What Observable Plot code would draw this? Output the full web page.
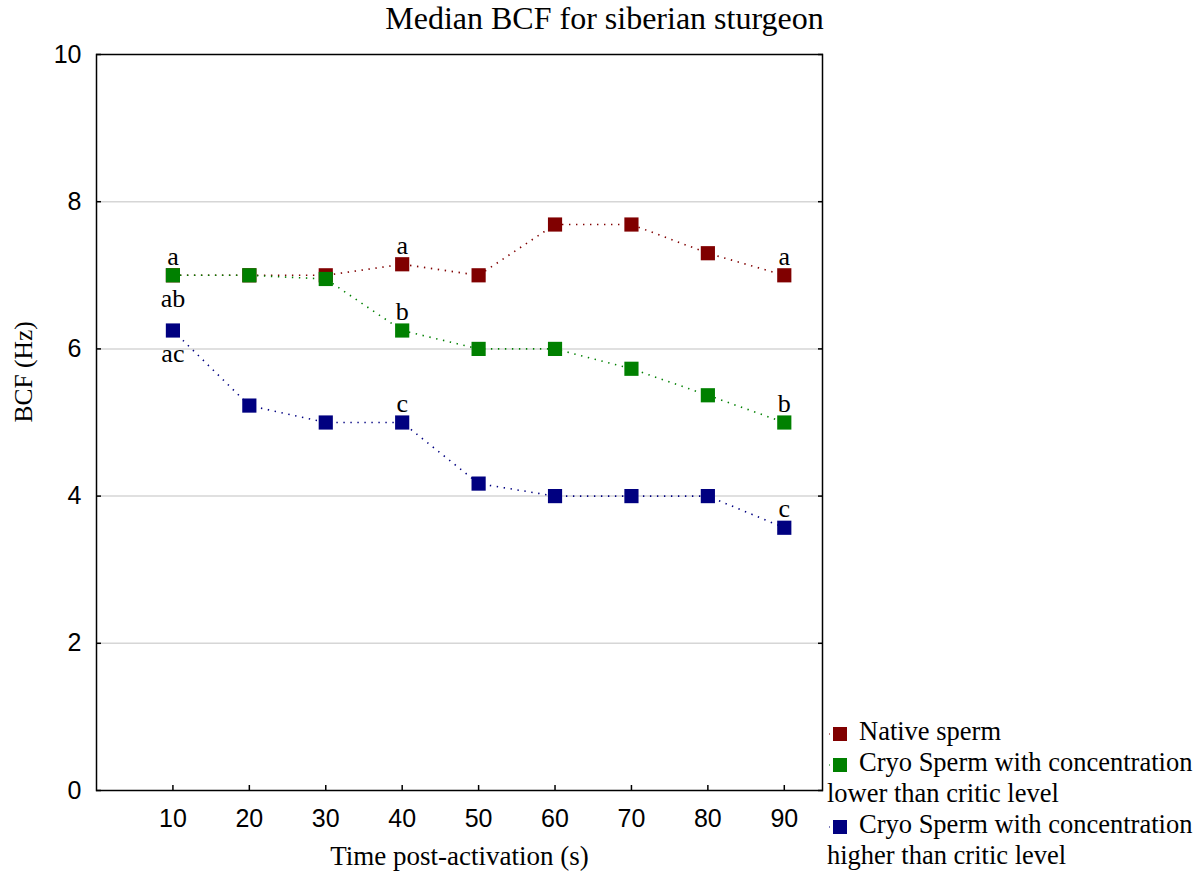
<!DOCTYPE html>
<html>
<head>
<meta charset="utf-8">
<script src="https://cdn.jsdelivr.net/npm/d3@7"></script>
<script src="https://cdn.jsdelivr.net/npm/@observablehq/plot@0.6"></script>
<style>
  html, body { margin: 0; padding: 0; background: #fff; }
  #wrap { position: relative; width: 1199px; height: 878px; overflow: hidden; }
  #title { height: 40px; line-height: 36px; text-align: center; padding-left: 10px; box-sizing: border-box;
           font-family: "Liberation Serif", "Times New Roman", serif; font-size: 32px; color: #000; white-space: nowrap; }
  #legend { position: absolute; left: 827px; top: 716px; font-family: "Liberation Serif", "Times New Roman", serif;
            font-size: 26.5px; line-height: 31px; color: #000; white-space: pre-line; }
  #legend .sw { display: inline-block; width: 32px; height: 14px; vertical-align: -1px; }
</style>
</head>
<body>
<div id="wrap">
  <div id="title"></div>
  <div id="chart"></div>
  <div id="legend"></div>
</div>
<script>
// ---- data ----
const chartTitle = "Median BCF for siberian sturgeon";
const xLabel = "Time post-activation (s)";
const yLabel = "BCF (Hz)";
const times = [10, 20, 30, 40, 50, 60, 70, 80, 90];
const nativeSperm = [7.0, 7.0, 7.0, 7.15, 7.0, 7.69, 7.69, 7.3, 7.0];
const cryoLower = [7.0, 7.0, 6.95, 6.25, 6.0, 6.0, 5.73, 5.37, 5.0];
const cryoHigher = [6.25, 5.23, 5.0, 5.0, 4.17, 4.0, 4.0, 4.0, 3.57];
const seriesNames = [
  "Native sperm",
  "Cryo Sperm with concentration\nlower than critic level",
  "Cryo Sperm with concentration\nhigher than critic level"
];
const seriesColors = ["#800000", "#008000", "#000080"];
const xTicks = [10, 20, 30, 40, 50, 60, 70, 80, 90];
const yTicks = [0, 2, 4, 6, 8, 10];
const gridValues = [2, 4, 6, 8];
// significance letters: series index, time, letter, placement
const letterSeries = [0, 0, 0, 1, 1, 1, 2, 2, 2];
const letterTimes = [10, 40, 90, 10, 40, 90, 10, 40, 90];
const letterTexts = ["a", "a", "a", "ab", "b", "b", "ac", "c", "c"];
const letterPlace = ["above", "above", "above", "below", "above", "above", "below", "above", "above"];

// ---- build tables ----
const seriesValues = [nativeSperm, cryoLower, cryoHigher];
const rows = [];
seriesValues.forEach((vals, s) => vals.forEach((v, i) => rows.push({series: s, time: times[i], value: v})));
const letters = letterTexts.map((t, i) => ({
  text: t, time: letterTimes[i], place: letterPlace[i],
  value: seriesValues[letterSeries[i]][times.indexOf(letterTimes[i])]
}));

const serif = "Liberation Serif, Times New Roman, serif";
const sans = "Liberation Sans, Arial, sans-serif";

document.getElementById("title").textContent = chartTitle;

const marks = [
  Plot.gridY(gridValues, {stroke: "#d6d6d6", strokeOpacity: 1, strokeWidth: 1.5}),
  Plot.frame({stroke: "#000", strokeWidth: 1.5}),
  // inward tick marks
  Plot.axisX(xTicks, {anchor: "bottom", tickSize: -5, tickFormat: () => "", label: null, strokeWidth: 1.5}),
  Plot.axisY(yTicks, {anchor: "left", tickSize: -5, tickFormat: () => "", label: null, strokeWidth: 1.5}),
  Plot.axisY(yTicks, {anchor: "right", tickSize: -5, tickFormat: () => "", label: null, strokeWidth: 1.5}),
  // tick labels
  Plot.axisX(xTicks, {anchor: "bottom", tickSize: 0, tickPadding: 19, label: null, fontSize: 25, fontFamily: sans, tickFormat: d => String(d)}),
  Plot.axisY(yTicks, {anchor: "left", tickSize: 0, tickPadding: 15, label: null, fontSize: 25, fontFamily: sans, tickFormat: d => String(d)}),
  // axis titles
  Plot.text([xLabel], {frameAnchor: "bottom", dy: 74, fontSize: 27, fontFamily: serif, fill: "#000"}),
  Plot.text([yLabel], {frameAnchor: "left", dx: -73, rotate: -90, fontSize: 25.5, fontFamily: serif, fill: "#000"})
];
seriesValues.forEach((vals, s) => {
  const data = rows.filter(d => d.series === s);
  marks.push(Plot.line(data, {x: "time", y: "value", stroke: seriesColors[s], strokeWidth: 1.6,
    strokeDasharray: "1.4,5.6", strokeLinecap: "butt"}));
  marks.push(Plot.dot(data, {x: "time", y: "value", symbol: "square", r: 8, fill: seriesColors[s], stroke: "none"}));
});
marks.push(Plot.text(letters.filter(d => d.place === "above"), {x: "time", y: "value", text: "text", dy: -19,
  fontSize: 26, fontFamily: serif, fill: "#000"}));
marks.push(Plot.text(letters.filter(d => d.place === "below"), {x: "time", y: "value", text: "text", dy: 23,
  fontSize: 26, fontFamily: serif, fill: "#000"}));

const chart = Plot.plot({
  width: 1199,
  height: 838,
  marginTop: 14,
  marginBottom: 88,
  marginLeft: 96,
  marginRight: 377,
  x: {domain: [0, 95]},
  y: {domain: [0, 10]},
  style: {background: "white", fontFamily: sans, overflow: "visible", color: "#000"},
  marks
});
document.getElementById("chart").appendChild(chart);

// legend
const legend = document.getElementById("legend");
seriesNames.forEach((name, s) => {
  const item = document.createElement("div");
  const sw = document.createElementNS("http://www.w3.org/2000/svg", "svg");
  sw.setAttribute("class", "sw");
  sw.setAttribute("width", 32); sw.setAttribute("height", 14);
  sw.innerHTML = `<line x1="2" x2="8" y1="7" y2="7" stroke="${seriesColors[s]}" stroke-width="1.2" stroke-dasharray="1,3"/>` +
    `<rect x="6" y="0" width="14" height="14" fill="${seriesColors[s]}"/>`;
  item.appendChild(sw);
  item.appendChild(document.createTextNode(name));
  legend.appendChild(item);
});
</script>
</body>
</html>
